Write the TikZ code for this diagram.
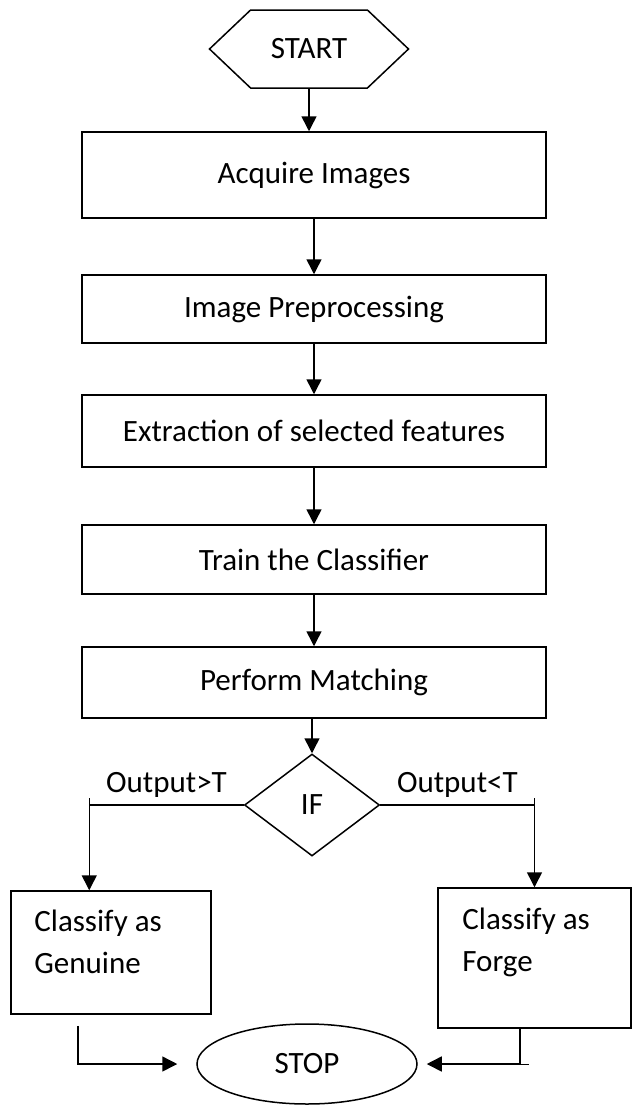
\documentclass[tikz,border=0pt]{standalone}
\usepackage{fontspec}
\setmainfont{Carlito}
\usetikzlibrary{positioning,arrows.meta,shapes.geometric,shapes.symbols,calc}

\begin{document}
\begin{tikzpicture}[x=0.5pt,y=-0.5pt,
            font=\fontsize{15.5}{21}\selectfont,
            box/.style={rectangle, draw, line width=0.75pt, minimum width=232pt, inner sep=0pt},
            hexa/.style={signal, signal to=east and west, signal pointer angle=87, draw,
                         line width=0.75pt, minimum width=99.5pt, minimum height=39pt, inner sep=0pt},
            dec/.style={diamond, draw, line width=0.75pt, aspect=1.32, minimum width=67.5pt,
                        minimum height=51pt, inner sep=0pt},
            term/.style={ellipse, draw, line width=0.75pt, minimum width=110pt, minimum height=40pt, inner sep=0pt},
            txt/.style={anchor=north west, align=left, inner sep=0pt},
            arr/.style={-{Triangle[width=7.5pt,length=7.5pt]}, line width=0.75pt}]
        \useasboundingbox (0,0) rectangle (633,1108);
        \node[hexa] (start) at (309,49) {START};
        \node[box, minimum height=43pt]   (acq) at (314,175)   {Acquire Images};
        \node[box, minimum height=34pt]   (pre) at (314,309)   {Image Preprocessing};
        \node[box, minimum height=36pt]   (ext) at (314,431)   {Extraction of selected features};
        \node[box, minimum height=34.5pt] (trn) at (314,559.5) {Train the Classifier};
        \node[box, minimum height=35.5pt] (mat) at (314,682.5) {Perform Matching};
        \node[dec] (if) at (312,805) {IF};
        \node[box, minimum width=100pt, minimum height=61.5pt] (gen) at (111,952.5) {};
        \node[box, minimum width=96.5pt, minimum height=70pt]  (frg) at (534.5,958) {};
        \node[txt] (gentxt) at (34,910)  {Classify as\\Genuine};
        \node[txt] (frgtxt) at (462,908) {Classify as\\Forge};
        \node[term] (stop) at (307,1064) {STOP};

        \draw[arr] (start.south) -- (start.south |- acq.north);
        \draw[arr] (acq) -- (pre);
        \draw[arr] (pre) -- (ext);
        \draw[arr] (ext) -- (trn);
        \draw[arr] (trn) -- (mat);
        \draw[arr] (mat.south -| if.north) -- (if.north);

        \coordinate (gk) at ($(gen.north west)+(79,0)$);
        \draw[arr] (if.west) -| node[pos=0.25, above] {Output>T} (gk);
        \draw (if.west -| gk) -- ++(0,-7);
        \draw[arr] (if.east) -| node[pos=0.25, above] {Output<T} (frg.north);
        \draw (if.east -| frg.north) -- ++(0,-7);

        \coordinate (gb) at ($(gen.south)+(-33,11)$);
        \draw[arr] (gb) |- ($(stop.west)+(-19,0)$);
        \coordinate (fb) at ($(frg.south)+(-14.5,0)$);
        \draw[arr] (fb) |- ($(stop.east)+(9,0)$);
        \draw (fb |- stop.east) -- ++(9,0);
      \end{tikzpicture}
\end{document}
